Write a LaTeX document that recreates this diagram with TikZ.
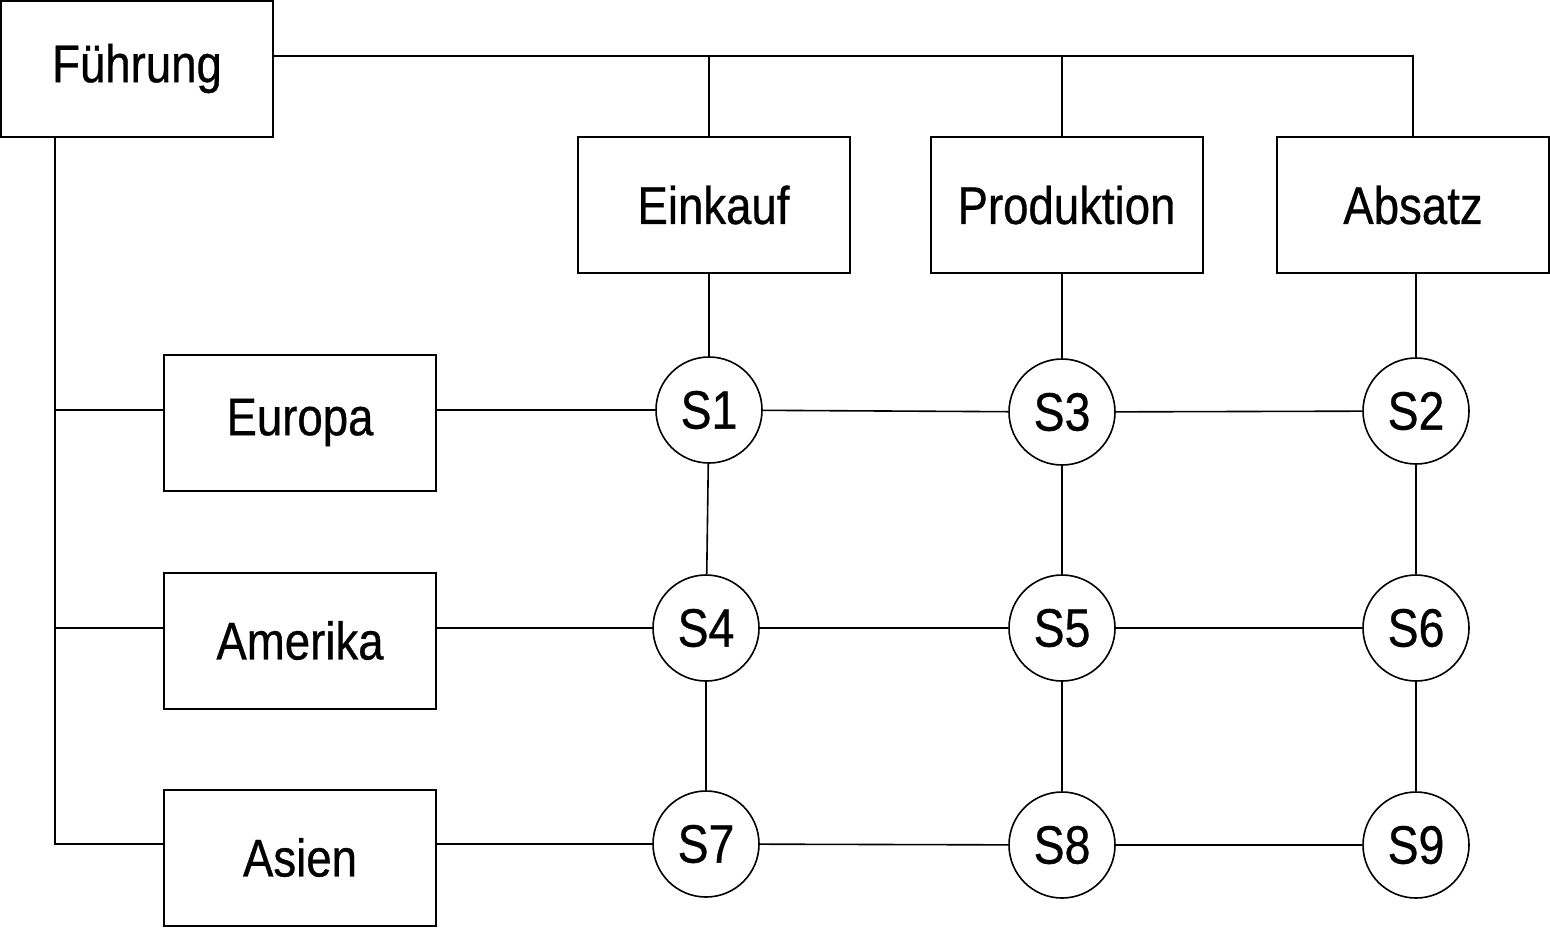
\documentclass[tikz,border=0pt]{standalone}
\usepackage{fontspec}
\setmainfont{Liberation Sans}[FakeStretch=0.86,FakeBold=0.6]
\begin{document}
\begin{tikzpicture}[x=0.5pt,y=-0.5pt,
  box/.style={draw,line width=1pt,minimum width=136pt,minimum height=68pt,inner sep=0pt,font=\fontsize{26.5}{30}\selectfont},
  sat/.style={draw,circle,line width=0.8pt,minimum size=53pt,inner sep=0pt,font=\fontsize{27}{30}\selectfont},
  conn/.style={line width=0.8pt}]
\useasboundingbox (0,0) rectangle (1550,928);
\node[box,text depth=6pt] (F) at (137,69) {Führung};
\node[box] (E) at (713.5,205) {Einkauf};
\node[box] (P) at (1066.5,205) {Produktion};
\node[box] (A) at (1413,205) {Absatz};
\node[box] (EU) at (300,422.5) {Europa};
\node[box] (AM) at (300,640.5) {Amerika};
\node[box] (AS) at (300,857.5) {Asien};
\node[sat] (S1) at (709,410) {S1};
\node[sat] (S3) at (1062,412) {S3};
\node[sat] (S2) at (1416,411) {S2};
\node[sat] (S4) at (706,628) {S4};
\node[sat] (S5) at (1062,628) {S5};
\node[sat] (S6) at (1416,628) {S6};
\node[sat] (S7) at (706,844) {S7};
\node[sat] (S8) at (1062,845) {S8};
\node[sat] (S9) at (1416,845) {S9};
\coordinate (top) at (0,56);
\coordinate (lx) at (55,0);
% top bus
\draw[conn] (F.east |- top) -- (top -| A.north) -- (A.north);
\draw[conn] (top -| S1) -- (E.north -| S1);
\draw[conn] (top -| S3) -- (P.north -| S3);
% columns
\draw[conn] (E.south -| S1) -- (S1);
\draw[conn] (P.south -| S3) -- (S3);
\draw[conn] (A.south -| S2) -- (S2);
\draw[conn] (S1) -- (S4);
\draw[conn] (S4) -- (S7);
\draw[conn] (S3) -- (S5);
\draw[conn] (S5) -- (S8);
\draw[conn] (S2) -- (S6);
\draw[conn] (S6) -- (S9);
% left bus
\draw[conn] (F.south -| lx) -- (S7 -| lx) -- (S7 -| AS.west);
\draw[conn] (S1 -| lx) -- (S1 -| EU.west);
\draw[conn] (S4 -| lx) -- (S4 -| AM.west);
% rows
\draw[conn] (S1 -| EU.east) -- (S1);
\draw[conn] (S1) -- (S3);
\draw[conn] (S3) -- (S2);
\draw[conn] (S4 -| AM.east) -- (S4);
\draw[conn] (S4) -- (S5);
\draw[conn] (S5) -- (S6);
\draw[conn] (S7 -| AS.east) -- (S7);
\draw[conn] (S7) -- (S8);
\draw[conn] (S8) -- (S9);
\end{tikzpicture}
\end{document}
